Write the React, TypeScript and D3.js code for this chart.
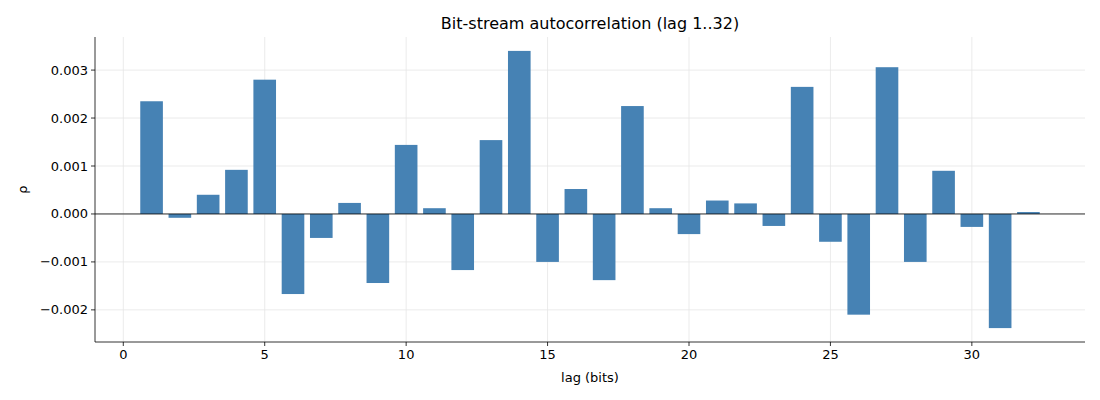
import React from "react";
import * as d3 from "d3";

const lags = d3.range(1, 33);
const rho = [0.00235,-0.00008,0.0004,0.00092,0.0028,-0.00167,-0.0005,0.00023,-0.00144,0.00144,0.00012,-0.00117,0.00154,0.0034,-0.001,0.00052,-0.00138,0.00225,0.00012,-0.00042,0.00028,0.00022,-0.00025,0.00265,-0.00058,-0.0021,0.00306,-0.001,0.0009,-0.00027,-0.00238,0.00004];
const xTicks = [0,5,10,15,20,25,30];
const yTicks = [-0.002,-0.001,0,0.001,0.002,0.003];

export default function App() {
  const W = 1100, H = 400, L = 95, R = 1085, T = 37, B = 342;
  const x = d3.scaleLinear().domain([-1, 34]).range([L, R]);
  const y = d3.scaleLinear().domain([-0.00267, 0.00369]).range([B, T]);
  const bw = x(0.8) - x(0);
  const f = "DejaVu Sans, sans-serif";
  return (
    <svg width={W} height={H} style={{ position: "absolute", left: 0, top: 0 }} fontFamily={f}>
      <rect width={W} height={H} fill="#fff" />
      {xTicks.map(t => <line key={"gx"+t} x1={x(t)} x2={x(t)} y1={T} y2={B} stroke="#e6e6e6" strokeWidth={0.8} />)}
      {yTicks.map(t => <line key={"gy"+t} x1={L} x2={R} y1={y(t)} y2={y(t)} stroke="#e6e6e6" strokeWidth={0.8} />)}
      {lags.map((l, i) => (
        <rect key={l} x={x(l) - bw / 2} width={bw} y={y(Math.max(0, rho[i]))} height={Math.abs(y(rho[i]) - y(0))} fill="#4682b4" />
      ))}
      <line x1={L} x2={R} y1={y(0)} y2={y(0)} stroke="#000" strokeWidth={0.8} />
      <line x1={L} x2={L} y1={T} y2={B} stroke="#000" strokeWidth={0.8} />
      <line x1={L} x2={R} y1={B} y2={B} stroke="#000" strokeWidth={0.8} />
      {xTicks.map(t => (
        <g key={"tx"+t}>
          <line x1={x(t)} x2={x(t)} y1={B} y2={B + 4} stroke="#000" strokeWidth={0.8} />
          <text x={x(t)} y={B + 17} fontSize={13} textAnchor="middle">{t}</text>
        </g>
      ))}
      {yTicks.map(t => (
        <g key={"ty"+t}>
          <line x1={L - 4} x2={L} y1={y(t)} y2={y(t)} stroke="#000" strokeWidth={0.8} />
          <text x={L - 7} y={y(t) + 4.5} fontSize={13} textAnchor="end">{t === 0 ? "0.000" : (t < 0 ? "\u2212" : "") + Math.abs(t).toFixed(3)}</text>
        </g>
      ))}
      <text x={(L + R) / 2} y={382} fontSize={13} textAnchor="middle">lag (bits)</text>
      <text transform={`translate(27,${(T + B) / 2}) rotate(-90)`} fontSize={13} textAnchor="middle">ρ</text>
      <text x={(L + R) / 2} y={29} fontSize={16} textAnchor="middle">Bit-stream autocorrelation (lag 1..32)</text>
    </svg>
  );
}
